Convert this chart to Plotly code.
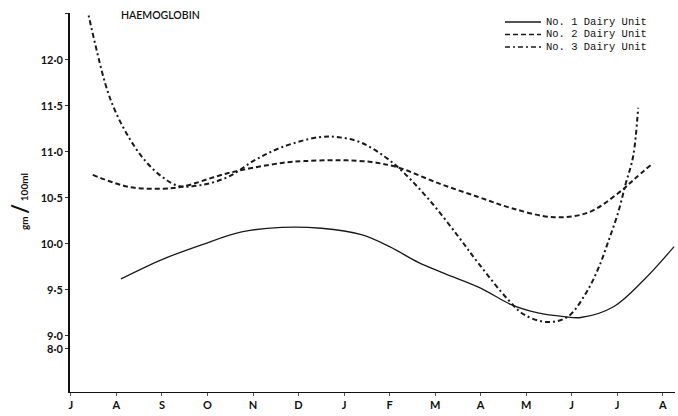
import plotly.graph_objects as go

# ---- data (x in months from July = 0) ----
month_labels = ["J", "A", "S", "O", "N", "D", "J", "F", "M", "A", "M", "J", "J", "A"]
month_pos = list(range(len(month_labels)))

unit1_x = [1.1, 2.0, 2.87, 3.75, 4.63, 5.5, 6.38, 7.0, 7.63, 8.2, 9.0, 9.67, 10.26, 10.83, 11.2, 11.93, 12.59, 13.25]
unit1_y = [9.62, 9.83, 9.99, 10.13, 10.18, 10.17, 10.10, 9.97, 9.80, 9.68, 9.52, 9.34, 9.25, 9.21, 9.20, 9.32, 9.61, 9.97]

unit2_x = [0.48, 1.27, 2.0, 2.43, 3.46, 4.63, 5.13, 5.88, 6.6, 7.19, 8.07, 8.95, 9.67, 10.61, 11.36, 12.02, 12.37, 12.79]
unit2_y = [10.75, 10.62, 10.60, 10.62, 10.77, 10.88, 10.90, 10.91, 10.89, 10.83, 10.66, 10.51, 10.39, 10.29, 10.34, 10.55, 10.70, 10.88]

unit3_x = [0.35, 0.75, 0.96, 1.27, 1.62, 2.0, 2.37, 2.87, 3.46, 4.04, 4.63, 5.44, 5.88, 6.38, 6.89, 7.32, 7.92, 8.51, 8.95, 9.61, 9.96, 10.48, 10.92, 11.32, 11.6, 11.8, 12.02, 12.19, 12.35, 12.46]
unit3_y = [12.57, 11.75, 11.46, 11.16, 10.91, 10.73, 10.63, 10.64, 10.73, 10.91, 11.05, 11.16, 11.16, 11.10, 10.95, 10.77, 10.45, 10.08, 9.79, 9.39, 9.23, 9.15, 9.21, 9.47, 9.75, 10.02, 10.34, 10.66, 10.95, 11.48]

y_tickvals = [8.86, 9.0, 9.5, 10.0, 10.5, 11.0, 11.5, 12.0, 12.5]
y_ticktext = ["8·0", "9·0", "9·5", "10·0", "10·5", "11·0", "11·5", "12·0", ""]

series_names = ["No. 1 Dairy Unit", "No. 2 Dairy Unit", "No. 3 Dairy Unit"]

# ---- layout geometry ----
W, H = 678, 416
L, R, T, B = 70, 3, 13, 24
PW, PH = W - L - R, H - T - B

def px_x(px):
    return (px - L) / PW

def px_y(py):
    return 1 - (py - T) / PH

FONT = "Lato"
styles = [
    dict(color="#1a1a1a", width=1.3, dash="solid"),
    dict(color="#1a1a1a", width=2, dash="5px,3px"),
    dict(color="#1a1a1a", width=2, dash="5px,3px,2px,3px"),
]

fig = go.Figure()
for xs, ys, nm, st in zip([unit1_x, unit2_x, unit3_x], [unit1_y, unit2_y, unit3_y], series_names, styles):
    fig.add_trace(go.Scatter(x=xs, y=ys, mode="lines", name=nm,
                             line=dict(shape="spline", smoothing=1.0, **st),
                             showlegend=False, hoverinfo="skip"))

# custom legend
legend_rows = [22, 34.5, 47]
shapes = []
annotations = []
for nm, st, ry in zip(series_names, styles, legend_rows):
    shapes.append(dict(type="line", xref="paper", yref="paper",
                       x0=px_x(505), x1=px_x(541), y0=px_y(ry), y1=px_y(ry),
                       line=dict(color=st["color"], width=1.6, dash=st["dash"])))
    annotations.append(dict(text=nm, xref="paper", yref="paper", x=px_x(544), y=px_y(ry),
                            xanchor="left", yanchor="middle", showarrow=False,
                            font=dict(family="Liberation Mono", size=10.5, color="#111")))

annotations.append(dict(text="HAEMOGLOBIN", xref="paper", yref="paper", x=px_x(119), y=px_y(15),
                        xanchor="left", yanchor="middle", showarrow=False,
                        font=dict(family=FONT, size=10.5, color="#111", weight=600)))
annotations.append(dict(text="gm <span style='font-size:22px'>/</span> 100ml", textangle=-90,
                        xref="paper", yref="paper", x=px_x(19), y=px_y(202),
                        xanchor="center", yanchor="middle", showarrow=False,
                        font=dict(family=FONT, size=10, color="#111", weight="bold")))

fig.update_layout(
    width=W, height=H,
    margin=dict(l=L, r=R, t=T, b=B),
    paper_bgcolor="white", plot_bgcolor="white",
    showlegend=False,
    shapes=shapes, annotations=annotations,
    xaxis=dict(range=[-0.02, 13.27], tickvals=month_pos, ticktext=month_labels,
               showgrid=False, zeroline=False, showline=True, linecolor="#111", linewidth=1.3,
               ticks="outside", ticklen=3, tickcolor="#555",
               tickfont=dict(family=FONT, size=11, color="#111", weight="bold")),
    yaxis=dict(range=[8.39, 12.51], tickvals=y_tickvals, ticktext=y_ticktext,
               showgrid=False, zeroline=False, showline=True, linecolor="#111", linewidth=2,
               ticks="outside", ticklen=3, tickcolor="#333",
               tickfont=dict(family=FONT, size=11, color="#111", weight="bold")),
)

fig.write_html("out.html")
